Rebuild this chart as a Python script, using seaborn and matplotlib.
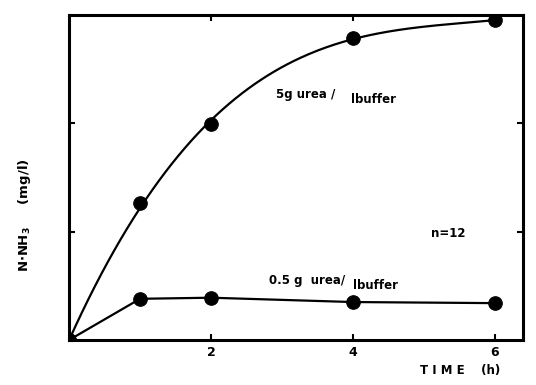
import numpy as np
import pandas as pd
import matplotlib
matplotlib.use("Agg")
import matplotlib.pyplot as plt
import seaborn as sns

# Ammonia nitrogen released over time for two urea loadings
time_h = [0, 1, 2, 4, 6]
urea_5g = [0.0, 1.26, 1.99, 2.79, 2.95]
urea_05g = [0.0, 0.38, 0.39, 0.35, 0.34]
x_ticks = [2, 4, 6]
y_ticks = [1, 2]


def origin_cubic(x, y):
    """Least-squares cubic through the origin: y = b1 x + b2 x^2 + b3 x^3."""
    x = np.asarray(x, float)
    y = np.asarray(y, float)
    A = np.column_stack([x, x**2, x**3])
    coef, *_ = np.linalg.lstsq(A, y, rcond=None)
    return coef


sns.set_theme(style="white")
plt.rcParams["font.family"] = ["DejaVu Sans"]
plt.rcParams["font.weight"] = "bold"
plt.rcParams["text.color"] = "black"
plt.rcParams["xtick.color"] = "black"
plt.rcParams["ytick.color"] = "black"

fig = plt.figure(figsize=(5.36, 3.85), dpi=100)
ax = fig.add_axes([0.129, 0.117, 0.847, 0.844])

pts = pd.DataFrame({"t": time_h, "hi": urea_5g, "lo": urea_05g})
b1, b2, b3 = origin_cubic(time_h, urea_5g)
t_fine = np.linspace(0, 6, 200)
curve = pd.DataFrame({"t": t_fine, "hi": b1 * t_fine + b2 * t_fine**2 + b3 * t_fine**3})

sns.lineplot(data=curve, x="t", y="hi", ax=ax, color="black", lw=1.6)
sns.lineplot(data=pts, x="t", y="lo", ax=ax, color="black", lw=1.6)
sns.scatterplot(data=pts, x="t", y="hi", ax=ax, color="black", s=95,
                edgecolor="black", zorder=5)
sns.scatterplot(data=pts, x="t", y="lo", ax=ax, color="black", s=95,
                edgecolor="black", zorder=5)

ax.set_xlim(0, 6.4)
ax.set_ylim(0, 3.0)
ax.set_xticks(x_ticks)
ax.set_xticklabels([str(v) for v in x_ticks], fontsize=9, fontweight="bold")
ax.set_yticks(y_ticks)
ax.set_yticklabels([])
ax.tick_params(axis="both", direction="in", length=4, width=1.5,
               color="black", labelcolor="black", bottom=True, left=True,
               top=True, right=True, pad=4)
for sp in ax.spines.values():
    sp.set_color("black")
    sp.set_linewidth(2.2)

ax.set_xlabel("")
ax.set_ylabel("")
fig.text(0.783, 0.022, "T I M E    (h)", fontsize=8.5, fontweight="bold",
         ha="left", va="bottom", color="black")
fig.text(0.045, 0.44, r"N$\cdot$NH$_3$     (mg/l)", fontsize=9.5, fontweight="bold",
         rotation=90, ha="center", va="center", color="black")

ax.text(2.92, 2.23, "5g urea /", fontsize=8.5, fontweight="bold", ha="left", color="black")
ax.text(3.98, 2.19, "lbuffer", fontsize=8.5, fontweight="bold", ha="left", color="black")
ax.text(5.1, 0.95, "n=12", fontsize=8.5, fontweight="bold", ha="left", color="black")
ax.text(2.82, 0.52, "0.5 g  urea/", fontsize=8.5, fontweight="bold", ha="left", color="black")
ax.text(4.0, 0.47, "lbuffer", fontsize=8.5, fontweight="bold", ha="left", color="black")

fig.savefig("out.png", dpi=100, facecolor="white")
